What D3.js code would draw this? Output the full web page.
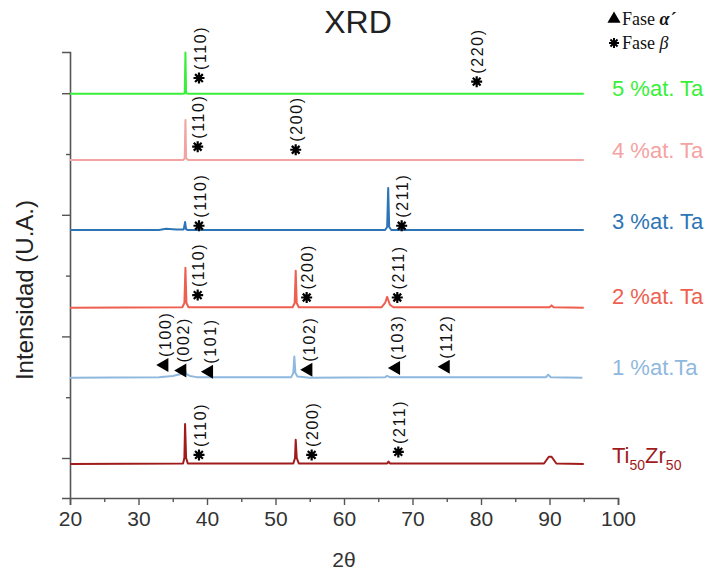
<!DOCTYPE html>
<html>
<head>
<meta charset="utf-8">
<script src="https://cdn.jsdelivr.net/npm/d3@7"></script>
<style>
	body { margin: 0; background: #fff; }
	text { font-family: "Liberation Sans", Arial, sans-serif; }
</style>
</head>
<body>
<script>
// SVG size
let width = 715,
	height = 575;

// patterns, [2theta, intensity] (stacked, in axis units)
const ti50zr50 = [[20,-0.10],[36.5,-0.09],[36.7,0.0],[36.8,0.56],[36.95,0.0],[37.2,-0.09],[52.6,-0.09],[52.85,0.0],[52.95,0.30],[53.1,0.0],[53.4,-0.09],[66.3,-0.09],[66.5,-0.06],[66.7,-0.09],[89.2,-0.09],[89.9,0.02],[90.3,0.02],[91,-0.09],[95,-0.10]];
const ta1 = [[20,1.32],[33,1.33],[35,1.35],[36.2,1.38],[36.6,1.50],[37.0,1.38],[37.5,1.35],[38.5,1.33],[52.3,1.33],[52.6,1.40],[52.75,1.67],[52.9,1.40],[53.2,1.34],[55,1.32],[66,1.33],[66.3,1.35],[66.7,1.33],[89.5,1.33],[89.8,1.37],[90.2,1.33],[94.8,1.32]];
const ta2 = [[20,2.47],[36.4,2.48],[36.7,2.55],[36.85,3.13],[37.0,2.55],[37.3,2.48],[52.5,2.48],[52.8,2.55],[52.95,3.08],[53.1,2.55],[53.4,2.48],[65.5,2.48],[66.0,2.55],[66.3,2.65],[66.7,2.52],[67.2,2.48],[90,2.48],[90.3,2.51],[90.6,2.48],[95,2.47]];
const ta3 = [[20,3.75],[33,3.75],[34,3.77],[35.5,3.76],[36.6,3.76],[36.8,3.88],[36.95,3.76],[37.2,3.75],[66.0,3.75],[66.3,3.80],[66.45,4.44],[66.6,3.80],[66.9,3.75],[95,3.75]];
const ta4 = [[20,4.90],[36.5,4.90],[36.75,4.93],[36.85,5.56],[36.95,4.93],[37.3,4.90],[95,4.90]];
const ta5 = [[20,5.99],[36.5,5.99],[36.75,6.0],[36.85,6.67],[36.95,6.0],[37.3,5.99],[95,5.99]];

const seriesNames = ["Ti50Zr50", "1 %at.Ta", "2 %at. Ta", "3 %at. Ta", "4 %at. Ta", "5 %at. Ta"];
const seriesData = [ti50zr50, ta1, ta2, ta3, ta4, ta5];
const seriesColors = ["#a01c1c", "#8fb8de", "#ee5f50", "#2e75b6", "#f4a3a3", "#38f038"];
const labelLevels = [-0.08, 1.37, 2.54, 3.76, 4.94, 5.96];

// peak annotations: [hkl, 2theta, level, phase]
const peaks = [
	["(110)", 38.83, 6.25, "b"], ["(220)", 79.37, 6.19, "b"],
	["(110)", 38.64, 5.12, "b"], ["(200)", 52.95, 5.07, "b"],
	["(110)", 38.83, 3.82, "b"], ["(211)", 68.42, 3.82, "b"],
	["(110)", 38.64, 2.68, "b"], ["(200)", 54.55, 2.64, "b"], ["(211)", 67.78, 2.64, "b"],
	["(100)", 33.77, 1.53, "a"], ["(002)", 36.39, 1.44, "a"], ["(101)", 40.29, 1.42, "a"],
	["(102)", 54.79, 1.45, "a"], ["(103)", 67.59, 1.48, "a"], ["(112)", 74.85, 1.50, "a"],
	["(110)", 38.83, 0.05, "b"], ["(200)", 55.28, 0.05, "b"], ["(211)", 67.93, 0.10, "b"]
];

const xTicks = [20, 30, 40, 50, 60, 70, 80, 90, 100];

let margin = {top: 52, right: 97, bottom: 77, left: 70};
let w = width - margin.left - margin.right,
	h = height - margin.top - margin.bottom;

let svg = d3.select("body").append("svg")
	.attr("width", width)
	.attr("height", height);

let g = svg.append("g")
	.attr("transform", "translate(" + margin.left + "," + margin.top + ")");

const x = d3.scaleLinear().domain([20, 100]).range([0, w]);
const y = d3.scaleLinear().domain([-0.658, 6.678]).range([h, 0]);

// asterisk for beta phase
const asterisk = function(r) {
	let p = "";
	for (let i = 0; i < 4; i++) {
		let a = i * Math.PI / 4;
		p += "M" + (-r * Math.cos(a)) + "," + (-r * Math.sin(a)) + "L" + (r * Math.cos(a)) + "," + (r * Math.sin(a));
	}
	return p;
};

// axes
let xAxis = g.append("g")
	.attr("transform", "translate(0," + h + ")")
	.call(d3.axisBottom(x).tickValues(xTicks).tickSize(7).tickPadding(6));
g.append("g")
	.attr("transform", "translate(0," + h + ")")
	.call(d3.axisBottom(x).tickValues(d3.range(25, 100, 10)).tickSize(4).tickFormat(""))
	.select(".domain").remove();
let yAxis = g.append("g")
	.call(d3.axisLeft(y).tickValues([0, 2, 4, 6]).tickSize(8).tickFormat(""));
g.append("g")
	.call(d3.axisLeft(y).tickValues([1, 3, 5]).tickSize(4).tickFormat(""))
	.select(".domain").remove();

g.selectAll(".domain").attr("stroke", "#555").attr("stroke-width", 1.6);
g.selectAll(".tick line").attr("stroke", "#555").attr("stroke-width", 1.4);
xAxis.selectAll(".tick text")
	.attr("font-size", 21)
	.attr("fill", "#333")
	.style("font-family", "Liberation Sans, Arial, sans-serif");

// patterns
let line = d3.line()
	.x(function(d) { return x(d[0]); })
	.y(function(d) { return y(d[1]); });

g.selectAll(".pattern")
	.data(seriesData)
	.enter()
	.append("path")
	.attr("class", "pattern")
	.attr("d", line)
	.attr("fill", "none")
	.attr("stroke", function(d, i) { return seriesColors[i]; })
	.attr("stroke-width", 2)
	.attr("stroke-linejoin", "round");

// annotations
let ann = g.selectAll(".ann")
	.data(peaks)
	.enter()
	.append("g")
	.attr("class", "ann")
	.attr("transform", function(d) { return "translate(" + x(d[1]) + "," + y(d[2]) + ")"; });

ann.filter(function(d) { return d[3] === "b"; })
	.append("path")
	.attr("d", asterisk(5.5))
	.attr("stroke", "#000")
	.attr("stroke-width", 2.2);

ann.filter(function(d) { return d[3] === "a"; })
	.append("path")
	.attr("d", d3.symbol().type(d3.symbolTriangle).size(85))
	.attr("transform", "rotate(-90)")
	.attr("fill", "#000");

ann.append("text")
	.attr("transform", "rotate(-90)")
	.attr("x", 8)
	.attr("y", 1)
	.attr("dy", "0.35em")
	.attr("font-size", 16)
	.attr("letter-spacing", 1.6)
	.attr("fill", "#111")
	.text(function(d) { return d[0]; });

// series labels
const labelX = w - 6;

g.selectAll(".slabel")
	.data(seriesNames.slice(1))
	.enter()
	.append("text")
	.attr("class", "slabel")
	.attr("x", labelX)
	.attr("y", function(d, i) { return y(labelLevels[i + 1]); })
	.attr("font-size", 22)
	.attr("fill", function(d, i) { return seriesColors[i + 1]; })
	.text(function(d) { return d; });

let tz = g.append("text")
	.attr("x", labelX)
	.attr("y", y(labelLevels[0]))
	.attr("font-size", 22)
	.attr("fill", seriesColors[0]);
tz.append("tspan").text("Ti");
tz.append("tspan").attr("font-size", 14).attr("dy", 7).text("50");
tz.append("tspan").attr("dy", -7).text("Zr");
tz.append("tspan").attr("font-size", 14).attr("dy", 7).text("50");

// title and axis labels
svg.append("text")
	.attr("x", 358)
	.attr("y", 33)
	.attr("text-anchor", "middle")
	.attr("font-size", 32)
	.attr("fill", "#222")
	.text("XRD");

svg.append("text")
	.attr("x", margin.left + w / 2)
	.attr("y", 567)
	.attr("text-anchor", "middle")
	.attr("font-size", 21)
	.attr("fill", "#333")
	.text("2θ");

svg.append("text")
	.attr("transform", "rotate(-90)")
	.attr("x", -290)
	.attr("y", 33)
	.attr("text-anchor", "middle")
	.attr("font-size", 24)
	.attr("fill", "#222")
	.text("Intensidad (U.A.)");

// legend
let legend = svg.append("g")
	.attr("transform", "translate(607,0)");

legend.append("path")
	.attr("d", d3.symbol().type(d3.symbolTriangle).size(75))
	.attr("transform", "translate(7,19)")
	.attr("fill", "#000");
let la = legend.append("text")
	.attr("x", 15)
	.attr("y", 25)
	.attr("font-size", 18)
	.style("font-family", "Liberation Serif, Times New Roman, serif")
	.attr("fill", "#111");
la.append("tspan").text("Fase ");
la.append("tspan").attr("font-weight", "bold").attr("font-style", "italic").text("α´");

legend.append("path")
	.attr("d", asterisk(5))
	.attr("transform", "translate(7,43)")
	.attr("stroke", "#000")
	.attr("stroke-width", 2);
let lb = legend.append("text")
	.attr("x", 15)
	.attr("y", 49)
	.attr("font-size", 18)
	.style("font-family", "Liberation Serif, Times New Roman, serif")
	.attr("fill", "#111");
lb.append("tspan").text("Fase ");
lb.append("tspan").attr("font-style", "italic").text("β");
</script>
</body>
</html>
